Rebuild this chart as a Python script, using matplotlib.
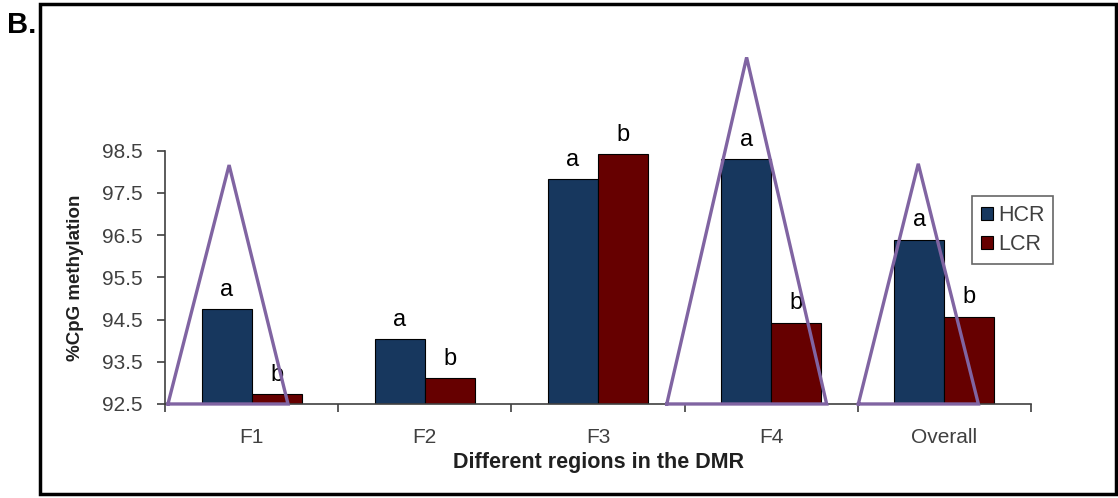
import matplotlib.pyplot as plt
import numpy as np
from matplotlib.patches import Rectangle

regions = ['F1', 'F2', 'F3', 'F4', 'Overall']
hcr = [94.74, 94.03, 97.82, 98.30, 96.39]
lcr = [92.74, 93.11, 98.42, 94.43, 94.57]
hcr_letters = ['a', 'a', 'a', 'a', 'a']
lcr_letters = ['b', 'b', 'b', 'b', 'b']

# purple triangles (x left, apex x, x right), apex height
tri_x = [[-0.483, -0.13, 0.21],
         [2.397, 2.858, 3.32],
         [3.503, 3.849, 4.196]]
tri_top = [98.16, 100.71, 98.19]

plt.rcParams['font.family'] = ['Liberation Sans', 'DejaVu Sans']

fig = plt.figure(figsize=(11.18, 4.98), dpi=100)
ax = fig.add_axes([0.1476, 0.1888, 0.9222 - 0.1476, 0.6974 - 0.1888])

x = np.arange(len(regions))
w = 0.289
ax.bar(x - w / 2, hcr, w, color='#17375E', edgecolor='black',
       linewidth=0.8, label='HCR', zorder=2)
ax.bar(x + w / 2, lcr, w, color='#660000', edgecolor='black',
       linewidth=0.8, label='LCR', zorder=2)

for i in range(len(regions)):
    ax.annotate(hcr_letters[i], (x[i] - w / 2, hcr[i]), xytext=(0, 6),
                textcoords='offset points', ha='center', va='bottom',
                fontsize=17, annotation_clip=False)
    ax.annotate(lcr_letters[i], (x[i] + w / 2, lcr[i]), xytext=(0, 6),
                textcoords='offset points', ha='center', va='bottom',
                fontsize=17, annotation_clip=False)

for tx, ty in zip(tri_x, tri_top):
    ax.plot(tx + [tx[0]], [92.5, ty, 92.5, 92.5], color='#8064A2', lw=2.4,
            clip_on=False, zorder=5, solid_joinstyle='miter')

ax.set_xlim(-0.5, 4.5)
ax.set_ylim(92.5, 98.5)
ax.set_yticks(np.arange(92.5, 98.6, 1.0))
ax.set_yticklabels(['%.1f' % v for v in np.arange(92.5, 98.6, 1.0)])
ax.set_xticks(x)
ax.set_xticklabels(regions)
ax.set_xticks(np.arange(-0.5, 4.6, 1.0), minor=True)
ax.tick_params(axis='x', which='major', length=0, pad=17, labelsize=15,
               labelcolor='#404040')
ax.tick_params(axis='x', which='minor', length=6, color='#404040', width=1.2)
ax.tick_params(axis='y', length=6, color='#404040', width=1.2, labelsize=15,
               labelcolor='#404040', pad=10)

for s in ['top', 'right']:
    ax.spines[s].set_visible(False)
for s in ['left', 'bottom']:
    ax.spines[s].set_color('#404040')
    ax.spines[s].set_linewidth(1.2)

ax.set_xlabel('Different regions in the DMR', fontsize=15.5, fontweight='bold',
              color='#202020', labelpad=4)
ax.set_ylabel('%CpG methylation', fontsize=13.5, fontweight='bold',
              color='#202020', labelpad=13)

leg = ax.legend(loc='upper left', bbox_to_anchor=(0.932, 0.821), fontsize=15.5,
                frameon=True, fancybox=False, edgecolor='#404040',
                handlelength=0.55, handleheight=0.55, handletextpad=0.25,
                borderpad=0.4, labelspacing=0.4, labelcolor='#404040',
                borderaxespad=0)
leg.get_frame().set_linewidth(1.2)

fig.patches.append(Rectangle((40 / 1118, 1 - 494 / 498), 1076 / 1118, 490 / 498,
                             transform=fig.transFigure, fill=False,
                             edgecolor='black', linewidth=2.5))
fig.text(7 / 1118, 1 - 25 / 498, 'B.', fontsize=21, fontweight='bold',
         va='center', ha='left')

fig.savefig('out.png', dpi=100)
